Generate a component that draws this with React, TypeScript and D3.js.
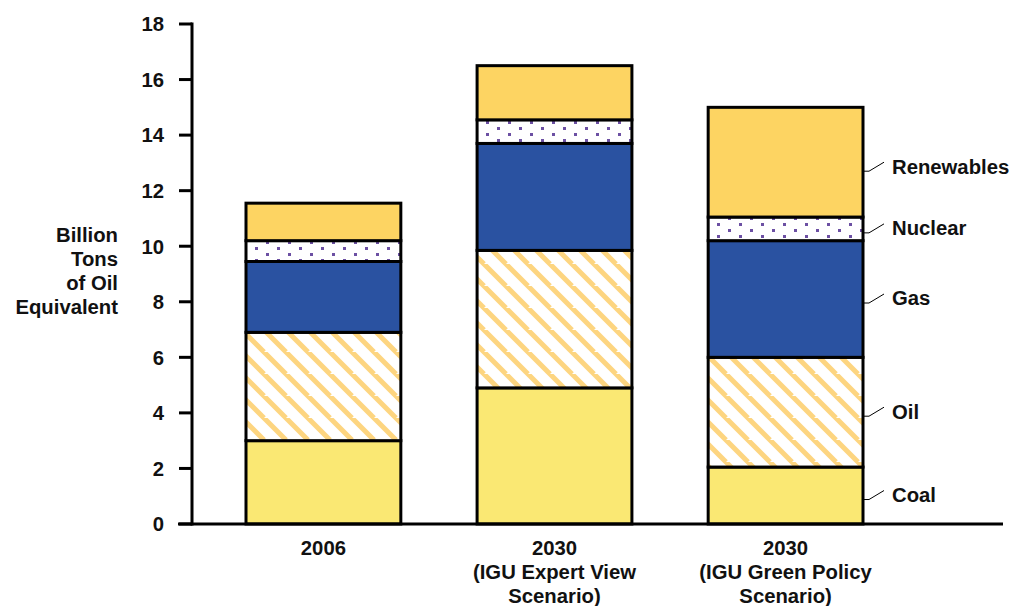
import React from "react";
import * as d3 from "d3";

const categories = ["2006", "2030 IGU Expert View", "2030 IGU Green Policy"];
const categoryLabels: string[][] = [
  ["2006"],
  ["2030", "(IGU Expert View", "Scenario)"],
  ["2030", "(IGU Green Policy", "Scenario)"],
];
const seriesNames = ["Coal", "Oil", "Gas", "Nuclear", "Renewables"];
const coal = [3.0, 4.9, 2.05];
const oil = [3.9, 4.95, 3.95];
const gas = [2.55, 3.85, 4.2];
const nuclear = [0.75, 0.85, 0.85];
const renewables = [1.35, 1.95, 3.95];
const yTicks = [0, 2, 4, 6, 8, 10, 12, 14, 16, 18];
const yLabelLines = ["Billion", "Tons", "of Oil", "Equivalent"];

const W = 1013;
const H = 606;

export default function App() {
  const rows = categories.map((c, i) => ({
    cat: c,
    Coal: coal[i],
    Oil: oil[i],
    Gas: gas[i],
    Nuclear: nuclear[i],
    Renewables: renewables[i],
  }));
  const stack = d3.stack<any>().keys(seriesNames)(rows);
  const y = d3.scaleLinear().domain([0, 18]).range([524, 24]);
  const x = d3
    .scaleBand()
    .domain(categories)
    .range([246, 863])
    .paddingInner(0.33)
    .paddingOuter(0);

  const fills: Record<string, string> = {
    Coal: "#FAE873",
    Oil: "url(#hatch)",
    Gas: "#2A52A1",
    Nuclear: "url(#dots)",
    Renewables: "#FDD462",
  };
  const font = "'Liberation Sans', Arial, sans-serif";
  const fs = 20.3;
  const lastIdx = categories.length - 1;
  const lastX = (x(categories[lastIdx]) as number) + x.bandwidth();

  return (
    <svg width={W} height={H} style={{ position: "absolute", left: 0, top: 0, background: "#fff" }}>
      <defs>
        <pattern id="hatch" patternUnits="userSpaceOnUse" width="22" height="22">
          <rect width="22" height="22" fill="#fff" />
          <path d="M0,0 L22,22 M-11,11 L0,22 M11,-11 L33,11 M-11,-11 L11,11 M11,11 L33,33" stroke="#FDD580" strokeWidth="5" />
        </pattern>
        <pattern id="dots" patternUnits="userSpaceOnUse" width="22" height="12">
          <rect width="22" height="12" fill="#fff" />
          <rect x="2" y="1" width="3" height="3" fill="#6C50A3" />
          <rect x="13" y="7" width="3" height="3" fill="#6C50A3" />
        </pattern>
      </defs>

      {/* bars */}
      {stack.map((layer) =>
        layer.map((d, i) => {
          const x0 = x(categories[i]) as number;
          return (
            <rect
              key={layer.key + i}
              x={x0}
              y={y(d[1])}
              width={x.bandwidth()}
              height={y(d[0]) - y(d[1])}
              fill={fills[layer.key]}
              stroke="#000"
              strokeWidth={3}
            />
          );
        })
      )}

      {/* axes */}
      <line x1={192} x2={192} y1={y(18) - 1.5} y2={y(0) + 1.5} stroke="#000" strokeWidth={3} />
      <line x1={178} x2={1003} y1={y(0)} y2={y(0)} stroke="#000" strokeWidth={3} />
      {yTicks.map((t) => (
        <g key={t}>
          <line x1={179} x2={192} y1={y(t)} y2={y(t)} stroke="#000" strokeWidth={3} />
          <text
            x={164}
            y={y(t)}
            dy="0.36em"
            textAnchor="end"
            fontFamily={font}
            fontWeight="bold"
            fontSize={fs}
            fill="#111"
          >
            {t}
          </text>
        </g>
      ))}

      {/* y label */}
      {yLabelLines.map((l, i) => (
        <text
          key={l}
          x={118}
          y={242 + i * 24}
          textAnchor="end"
          fontFamily={font}
          fontWeight="bold"
          fontSize={fs}
          fill="#111"
        >
          {l}
        </text>
      ))}

      {/* x labels */}
      {categoryLabels.map((lines, i) => {
        const cx = (x(categories[i]) as number) + x.bandwidth() / 2;
        return lines.map((l, j) => (
          <text
            key={i + "-" + j}
            x={cx}
            y={555 + j * 24}
            textAnchor="middle"
            fontFamily={font}
            fontWeight="bold"
            fontSize={fs}
            fill="#111"
          >
            {l}
          </text>
        ));
      })}

      {/* legend labels on last bar */}
      {stack.map((layer) => {
        const d = layer[lastIdx];
        const my = (y(d[0]) + y(d[1])) / 2 + (layer.key === "Renewables" ? 4 : -1);
        return (
          <g key={"lab" + layer.key}>
            <path
              d={`M${lastX + 1},${my + 5} L${lastX + 6},${my + 5} L${lastX + 21},${my - 4}`}
              fill="none"
              stroke="#000"
              strokeWidth={1}
            />
            <text
              x={lastX + 29}
              y={my}
              dy="0.36em"
              fontFamily={font}
              fontWeight="bold"
              fontSize={fs}
              fill="#111"
            >
              {layer.key}
            </text>
          </g>
        );
      })}
    </svg>
  );
}
